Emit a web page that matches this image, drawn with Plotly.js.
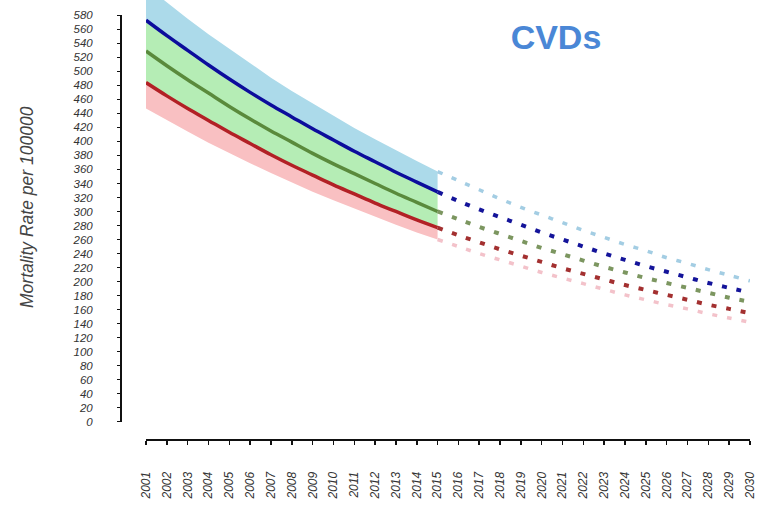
<!DOCTYPE html>
<html>
<head>
<meta charset="utf-8">
<script src="https://cdn.plot.ly/plotly-3.0.1.min.js"></script>
<style>html,body{margin:0;padding:0;background:#fff}#chart{width:759px;height:505px}</style>
</head>
<body>
<div id="chart"></div>
<script>
// Observed period 2001–2015 (solid) and projection 2015–2030 (dashed)
const yearsObs = [2001,2002,2003,2004,2005,2006,2007,2008,2009,2010,2011,2012,2013,2014,2015];
const yearsProj = [2015,2016,2017,2018,2019,2020,2021,2022,2023,2024,2025,2026,2027,2028,2029,2030];
const tickYears = [2001,2002,2003,2004,2005,2006,2007,2008,2009,2010,2011,2012,2013,2014,2015,2016,2017,2018,2019,2020,2021,2022,2023,2024,2025,2026,2027,2028,2029,2030];

const upperObs = [622,598,575,553,532,511,491,472,454,436,419,403,387,372,357];
const blueObs  = [573,551,530,509,489,470,452,435,418,402,386,371,356,342,328];
const greenObs = [529,508,488,469,450,432,415,399,383,368,354,340,326,313,300];
const redObs   = [484,465,447,430,413,397,381,366,352,338,325,312,300,288,277];
const lowerObs = [447,430,414,398,383,369,355,341,328,316,304,292,281,270,260];

const upperProj = [357,344,331,318,306,295,284,273,263,253,244,234,226,217,209,201];
const blueProj  = [328,315,303,292,281,270,260,250,240,231,222,214,206,198,191,184];
const greenProj = [300,289,278,268,258,248,239,230,221,213,205,198,191,184,177,171];
const redProj   = [277,266,256,246,237,228,219,211,203,195,188,181,174,167,161,155];
const lowerProj = [260,250,240,231,222,213,205,197,189,181,174,167,161,154,148,142];

const yTicks = [0,20,40,60,80,100,120,140,160,180,200,220,240,260,280,300,320,340,360,380,400,420,440,460,480,500,520,540,560,580];

const W = 759, H = 505;
const px = v => v / W;
const py = v => 1 - v / H;

const traces = [
  {x: yearsObs, y: upperObs, mode:'lines', line:{width:0, color:'rgba(0,0,0,0)'}, hoverinfo:'skip', showlegend:false},
  {x: yearsObs, y: blueObs, mode:'lines', line:{width:0, color:'rgba(0,0,0,0)'}, fill:'tonexty', fillcolor:'#acdaea', hoverinfo:'skip', showlegend:false},
  {x: yearsObs, y: redObs, mode:'lines', line:{width:0, color:'rgba(0,0,0,0)'}, fill:'tonexty', fillcolor:'#b5edb5', hoverinfo:'skip', showlegend:false},
  {x: yearsObs, y: lowerObs, mode:'lines', line:{width:0, color:'rgba(0,0,0,0)'}, fill:'tonexty', fillcolor:'#f9c0c2', hoverinfo:'skip', showlegend:false},

  {x: yearsObs, y: blueObs, mode:'lines', line:{width:3.5, color:'#0c0c9c', shape:'spline'}, showlegend:false},
  {x: yearsObs, y: greenObs, mode:'lines', line:{width:3.5, color:'#5a8a3c', shape:'spline'}, showlegend:false},
  {x: yearsObs, y: redObs, mode:'lines', line:{width:3.5, color:'#b22025', shape:'spline'}, showlegend:false},

  {x: yearsProj, y: upperProj, mode:'lines', line:{width:3.5, color:'#a3cde3', dash:'5px,10px', shape:'spline'}, showlegend:false},
  {x: yearsProj, y: blueProj, mode:'lines', line:{width:4, color:'#14149a', dash:'5px,10px', shape:'spline'}, showlegend:false},
  {x: yearsProj, y: greenProj, mode:'lines', line:{width:4, color:'#7c9660', dash:'5px,10px', shape:'spline'}, showlegend:false},
  {x: yearsProj, y: redProj, mode:'lines', line:{width:4, color:'#a33030', dash:'5px,10px', shape:'spline'}, showlegend:false},
  {x: yearsProj, y: lowerProj, mode:'lines', line:{width:3.5, color:'#f3c2ca', dash:'5px,10px', shape:'spline'}, showlegend:false},

  // invisible trace that carries the displayed axes
  {x: yearsObs, y: blueObs, xaxis:'x2', yaxis:'y2', mode:'lines', line:{width:0}, opacity:0, hoverinfo:'skip', showlegend:false}
];

const tickFont = {family:'Liberation Sans, Arial, sans-serif', size:11.5, color:'#333', style:'italic'};

const layout = {
  width: W, height: H,
  margin: {l:0, r:0, t:0, b:0},
  paper_bgcolor:'#fff', plot_bgcolor:'rgba(0,0,0,0)',
  showlegend:false,
  title: {text:'CVDs', x: px(556), y: py(37), xanchor:'center', yanchor:'middle', xref:'paper', yref:'paper',
          font:{family:'Liberation Sans, Arial, sans-serif', size:34, color:'#4a87d6', weight:'bold'}},
  xaxis: {domain:[px(146), px(750)], range:[2001, 2030], visible:false, fixedrange:true},
  yaxis: {domain:[0, 1], range:[(421.7 - 505)/0.7007, 421.7/0.7007], visible:false, fixedrange:true},
  xaxis2: {domain:[px(146), px(750)], range:[2001, 2030], anchor:'free', position: py(440),
           showline:true, linecolor:'#111', linewidth:2, showgrid:false, zeroline:false,
           tickmode:'array', tickvals: tickYears, ticktext: tickYears.map(String),
           ticks:'outside', ticklen:4, tickwidth:1.5, tickcolor:'#111',
           tickangle:-90, ticklabelstandoff:22, tickfont:{...tickFont, size:12}},
  yaxis2: {domain:[py(421.7), py(15.3)], range:[0, 580], anchor:'free', position: px(121),
           showline:true, linecolor:'#111', linewidth:2, showgrid:false, zeroline:false,
           tickmode:'array', tickvals: yTicks, ticktext: yTicks.map(String),
           ticks:'outside', ticklen:3, tickwidth:1.5, tickcolor:'#111',
           ticklabelstandoff:22, tickfont: tickFont},
  annotations: [
    {text:'Mortality Rate per 100000', xref:'paper', yref:'paper', x: px(27), y: py(207),
     xanchor:'center', yanchor:'middle', textangle:-90, showarrow:false,
     font:{family:'Liberation Sans, Arial, sans-serif', size:17.5, color:'#444', style:'italic'}}
  ]
};

Plotly.newPlot('chart', traces, layout, {staticPlot:true, displayModeBar:false});
</script>
</body>
</html>
